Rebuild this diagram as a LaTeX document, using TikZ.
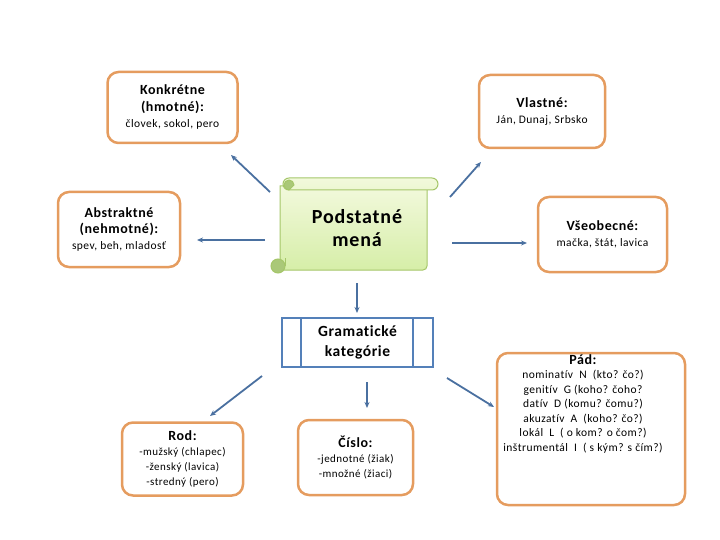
\documentclass[tikz,border=0pt]{standalone}
\usepackage{fontspec}
\setmainfont{Carlito}[LetterSpace=4,Ligatures={NoCommon,NoRare}]
\usetikzlibrary{arrows.meta}
\definecolor{boxorange}{RGB}{229,156,95}
\definecolor{arrblue}{RGB}{74,112,160}
\definecolor{gkblue}{RGB}{84,128,185}
\definecolor{scrollline}{RGB}{165,198,105}
\definecolor{scrolltop}{RGB}{242,249,220}
\definecolor{scrollbot}{RGB}{214,238,168}
\definecolor{curl}{RGB}{170,200,120}
\tikzset{
  obox/.style={draw=boxorange, line width=2.5pt, rounded corners=11pt, fill=white, align=center, inner sep=0pt},
  conn/.style={draw=arrblue, line width=1.8pt, -{Stealth[length=6pt,width=5pt]}},
}
\newcommand{\hdf}[1]{{\fontsize{14}{16}\selectfont\bfseries #1}}
\begin{document}
\begin{tikzpicture}[x=1pt,y=-1pt]
\useasboundingbox (0,0) rectangle (720,540);

% boxes
\node[obox, minimum width=130pt, minimum height=71pt, font=\fontsize{11.5}{16.5}\selectfont] (konk) at (172.5,107.5)
  {\hdf{Konkrétne}\\\hdf{(hmotné):}\\človek, sokol, pero};
\node[obox, minimum width=126pt, minimum height=73pt, font=\fontsize{11.5}{15.5}\selectfont] (vlas) at (542,111.5)
  {\hdf{Vlastné:}\\Ján, Dunaj, Srbsko};
\node[obox, minimum width=122pt, minimum height=75pt, font=\fontsize{11.5}{16}\selectfont] (abst) at (119,229.5)
  {\hdf{Abstraktné}\\\hdf{(nehmotné):}\\spev, beh, mladosť};
\node[obox, minimum width=129pt, minimum height=75pt, font=\fontsize{11.5}{16}\selectfont] (vseo) at (602.5,234.5)
  {\hdf{Všeobecné:}\\mačka, štát, lavica};
\node[obox, minimum width=121pt, minimum height=73pt, font=\fontsize{11}{15}\selectfont] (rod) at (182.5,459)
  {\hdf{Rod:}\\-mužský (chlapec)\\-ženský (lavica)\\-stredný (pero)};
\node[obox, minimum width=115pt, minimum height=75pt, font=\fontsize{11}{15}\selectfont] (cislo) at (355.5,457.5)
  {\hdf{Číslo:}\\-jednotné (žiak)\\-množné (žiaci)};
\node[obox, minimum width=188pt, minimum height=152pt] (pad) at (591,429) {};
\node[align=center, anchor=north, inner sep=0pt, font=\fontsize{11.5}{14.5}\selectfont] (padtext) at (583,354)
  {\hdf{Pád:}\\nominatív\ \ N\ \ (kto? čo?)\\genitív\ \ G (koho? čoho?\\datív\ \ D (komu? čomu?)\\akuzatív\ \ A\ \ (koho? čo?)\\lokál\ \ L\ \ ( o kom? o čom?)\\inštrumentál\ \ I\ \ ( s kým? s čím?)};

% gramaticke kategorie
\node[draw=gkblue, line width=2.5pt, minimum width=151pt, minimum height=49pt, inner sep=0pt, align=center,
      font=\fontsize{15.5}{20}\selectfont\bfseries] (gram) at (357.5,342.5) {Gramatické\\kategórie};
\draw[gkblue, line width=2.5pt] (301,318) -- (301,367) (413,318) -- (413,367);

% scroll
\shade[top color=scrolltop, bottom color=scrollbot, draw=scrollline, line width=1pt]
  (283,186) -- (427,186) -- (427,266) arc[start angle=0,end angle=90,radius=4] -- (280,270) -- (280,186) -- cycle;
\shade[top color=scrolltop, bottom color=scrolltop!80!scrollbot, draw=scrollline, line width=1pt]
  (289,178) -- (432,178) arc[start angle=-90,end angle=90,radius=6] -- (289,190) arc[start angle=90,end angle=270,radius=6] -- cycle;
\draw[scrollline, line width=1pt, fill=curl] (289,190) arc[start angle=90,end angle=360,radius=5] -- cycle;
\draw[scrollline, line width=1pt, fill=curl] (278,266) circle[radius=7];
\draw[scrollline, line width=1pt] (285,266) -- (285,258);
\node[align=center, inner sep=0pt, font=\fontsize{20}{23}\selectfont\bfseries] (pm) at (357,228.5) {Podstatné\\mená};

% connectors
\coordinate (ak) at (270,192); \coordinate (bk) at (231,155);
\coordinate (av) at (450,197); \coordinate (bv) at (481,162);
\coordinate (aa) at (265,240); \coordinate (ba) at (197,240);
\coordinate (as) at (452,243); \coordinate (bs) at (527,243);
\coordinate (ag) at (357,283); \coordinate (bg) at (357,313);
\coordinate (ar) at (262,376); \coordinate (br) at (210,416);
\coordinate (ac) at (367,382); \coordinate (bc) at (367,408);
\coordinate (ap) at (447,378); \coordinate (bp) at (494,407);
\draw[conn] (ak) -- (bk);
\draw[conn] (av) -- (bv);
\draw[conn] (aa) -- (ba);
\draw[conn] (as) -- (bs);
\draw[conn] (ag) -- (bg);
\draw[conn] (ar) -- (br);
\draw[conn] (ac) -- (bc);
\draw[conn] (ap) -- (bp);
\end{tikzpicture}
\end{document}
